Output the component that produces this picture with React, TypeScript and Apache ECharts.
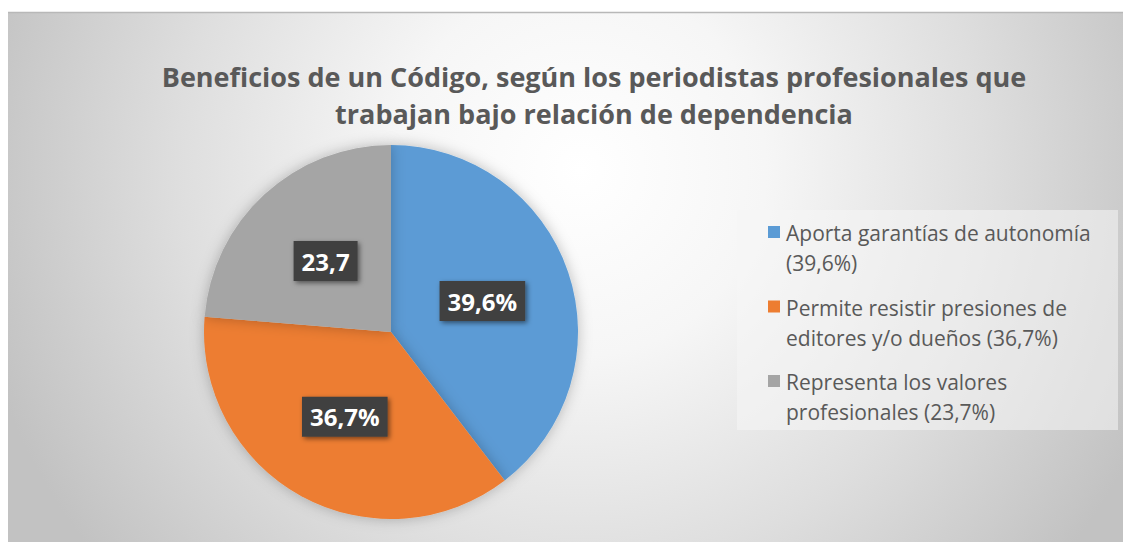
import React, { useEffect, useRef } from "react";
import * as echarts from "echarts";

const titleLines = [
  "Beneficios de un Código, según los periodistas profesionales que",
  "trabajan bajo relación de dependencia",
];
const categories = [
  "Aporta garantías de autonomía\n(39,6%)",
  "Permite resistir presiones de\neditores y/o dueños (36,7%)",
  "Representa los valores\nprofesionales (23,7%)",
];
const values = [39.6, 36.7, 23.7];
const sliceLabels = ["39,6%", "36,7%", "23,7"];
const colors = ["#5B9BD5", "#ED7D31", "#A5A5A5"];

export default function App() {
  const ref = useRef<HTMLDivElement>(null);
  useEffect(() => {
    document.body.style.margin = "0";
    const chart = echarts.init(ref.current!, null, { renderer: "svg" });
    const legendItems: any[] = [];
    categories.forEach((c, i) => {
      const top = 226 + i * 74.5;
      legendItems.push({
        type: "rect",
        shape: { x: 768, y: top, width: 12, height: 12 },
        style: { fill: colors[i] },
      });
      legendItems.push({
        type: "text",
        x: 786,
        y: top + 7 - 15,
        style: {
          text: c,
          fill: "#595959",
          font: "21px 'Open Sans'",
          lineHeight: 30,
          verticalAlign: "top",
          align: "left",
        },
      });
    });
    chart.setOption({
      animation: false,
      graphic: [
        {
          type: "rect",
          z: -10,
          silent: true,
          shape: { x: 8, y: 12, width: 1115, height: 530 },
          style: {
            fill: new echarts.graphic.RadialGradient(
              580,
              170,
              620,
              [
                { offset: 0, color: "#ffffff" },
                { offset: 0.3, color: "#f6f6f6" },
                { offset: 0.65, color: "#dedede" },
                { offset: 1, color: "#c2c2c2" },
              ],
              true
            ),
          },
        },
        {
          type: "line",
          z: -9,
          shape: { x1: 8, y1: 12.5, x2: 1123, y2: 12.5 },
          style: { stroke: "#b8b8b8", lineWidth: 1.5 },
        },
        {
          type: "rect",
          z: -8,
          shape: { x: 737, y: 210, width: 381, height: 220 },
          style: { fill: "rgba(245,245,245,0.55)" },
        },
        {
          type: "text",
          x: 594,
          y: 95,
          style: {
            text: titleLines.join("\n"),
            fill: "#595959",
            font: "bold 27px 'Open Sans'",
            lineHeight: 37,
            align: "center",
            verticalAlign: "middle",
          },
        },
        ...legendItems,
      ],
      series: [
        {
          type: "pie",
          center: [391, 332],
          radius: 187,
          startAngle: 90,
          clockwise: true,
          labelLine: { show: false },
          itemStyle: {
            shadowBlur: 14,
            shadowColor: "rgba(0,0,0,0.25)",
          },
          label: {
            show: true,
            position: "inside",
            formatter: (p: any) => sliceLabels[p.dataIndex],
            color: "#ffffff",
            fontFamily: "Open Sans",
            fontWeight: "bold",
            fontSize: 24,
            lineHeight: 28,
            backgroundColor: "#404040",
            padding: [7, 8, 5, 8],
            shadowBlur: 5,
            shadowColor: "rgba(0,0,0,0.5)",
            shadowOffsetX: 2,
            shadowOffsetY: 2,
          },
          emphasis: { disabled: true },
          data: categories.map((c, i) => ({
            name: c,
            value: values[i],
            itemStyle: { color: colors[i] },
          })),
        },
      ],
    });
    return () => chart.dispose();
  }, []);
  return <div ref={ref} style={{ width: 1123, height: 542 }} />;
}
